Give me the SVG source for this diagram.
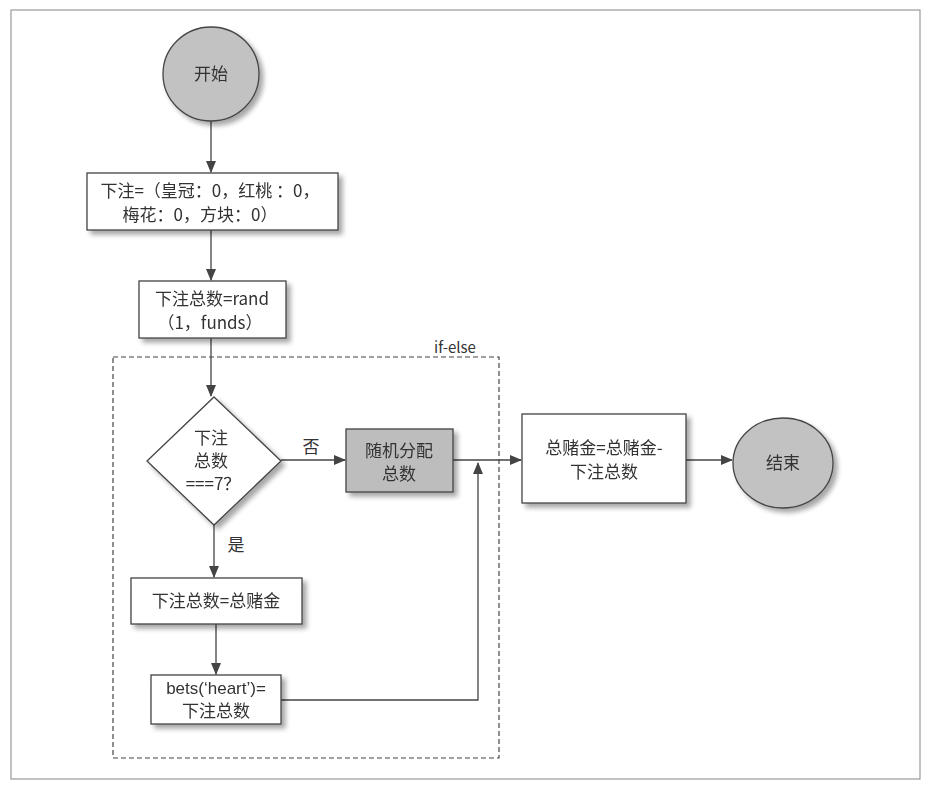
<svg xmlns="http://www.w3.org/2000/svg" width="932" height="791" viewBox="0 0 932 791">
<style>
.t{font-family:"Noto Sans CJK SC","Liberation Sans",sans-serif;font-size:17px;fill:#333;text-anchor:middle}
.box{fill:#fff;stroke:#444;stroke-width:1.3}
.gray{fill:#bdbdbd;stroke:#444;stroke-width:1.3}
.c{fill:#c2c2c2;stroke:#444;stroke-width:1.3}
.ln{fill:none;stroke:#444;stroke-width:1.3}
</style>
<defs>
<marker id="ar" markerWidth="12" markerHeight="10" refX="11" refY="5" orient="auto" markerUnits="userSpaceOnUse">
<path d="M0,0 L12,5 L0,10 Z" fill="#444"/>
</marker>
<filter id="sh" x="-20%" y="-20%" width="150%" height="160%">
<feGaussianBlur in="SourceAlpha" stdDeviation="2.5"/>
<feOffset dx="4" dy="4" result="b"/>
<feComponentTransfer><feFuncA type="linear" slope="0.35"/></feComponentTransfer>
<feMerge><feMergeNode/><feMergeNode in="SourceGraphic"/></feMerge>
</filter>
</defs>
<rect x="11" y="10" width="909" height="769" fill="#fff" stroke="#999" stroke-width="1.2"/>
<g id="ifelse">
<rect x="113" y="357" width="386" height="401" fill="none" stroke="#444" stroke-width="1.2" stroke-dasharray="5,3"/>
<text class="t" x="455" y="353" style="font-size:15px">if-else</text>
</g>
<g id="connectors">
<line class="ln" x1="211" y1="121" x2="211" y2="172" marker-end="url(#ar)"/>
<line class="ln" x1="211" y1="230" x2="211" y2="280" marker-end="url(#ar)"/>
<line class="ln" x1="211" y1="338" x2="211" y2="396" marker-end="url(#ar)"/>
<line class="ln" x1="281" y1="460" x2="345" y2="460" marker-end="url(#ar)"/>
<text class="t" x="311" y="453">否</text>
<line class="ln" x1="214" y1="525" x2="214" y2="577" marker-end="url(#ar)"/>
<text class="t" x="236" y="551">是</text>
<line class="ln" x1="216" y1="624" x2="216" y2="674" marker-end="url(#ar)"/>
<polyline class="ln" points="281,700 478,700 478,463" marker-end="url(#ar)"/>
<line class="ln" x1="453" y1="460" x2="521" y2="460" marker-end="url(#ar)"/>
<line class="ln" x1="686" y1="460" x2="732" y2="460" marker-end="url(#ar)"/>
</g>
<g id="start" filter="url(#sh)">
<ellipse class="c" cx="211" cy="74" rx="48" ry="47"/>
<text class="t" x="211" y="80">开始</text>
</g>
<g id="init" filter="url(#sh)">
<rect class="box" x="87" y="173" width="251" height="57"/>
<text class="t" x="210" y="197">下注=（皇冠：0，红桃 ：0，</text>
<text class="t" x="200" y="221">梅花：0，方块：0）</text>
</g>
<g id="rand" filter="url(#sh)">
<rect class="box" x="139" y="281" width="147" height="57"/>
<text class="t" x="212" y="305">下注总数=rand</text>
<text class="t" x="210" y="329">（1，funds）</text>
</g>
<g id="decision" filter="url(#sh)">
<polygon class="box" points="214,397 281,461 214,525 147,461"/>
<text class="t" x="211" y="444">下注</text>
<text class="t" x="211" y="467">总数</text>
<text class="t" x="213" y="490">===7？</text>
</g>
<g id="random" filter="url(#sh)">
<rect class="gray" x="346" y="429" width="107" height="63"/>
<text class="t" x="399" y="457">随机分配</text>
<text class="t" x="399" y="480">总数</text>
</g>
<g id="allin" filter="url(#sh)">
<rect class="box" x="131" y="578" width="171" height="46"/>
<text class="t" x="216" y="607">下注总数=总赌金</text>
</g>
<g id="heart" filter="url(#sh)">
<rect class="box" x="151" y="675" width="130" height="49"/>
<text class="t" x="216" y="694" style="font-family:'Liberation Sans',sans-serif">bets(‘heart’)=</text>
<text class="t" x="216" y="717">下注总数</text>
</g>
<g id="update" filter="url(#sh)">
<rect class="box" x="522" y="414" width="164" height="89"/>
<text class="t" x="604" y="454">总赌金=总赌金-</text>
<text class="t" x="604" y="478">下注总数</text>
</g>
<g id="end" filter="url(#sh)">
<ellipse class="c" cx="783" cy="463" rx="50" ry="45"/>
<text class="t" x="783" y="469">结束</text>
</g>
</svg>
